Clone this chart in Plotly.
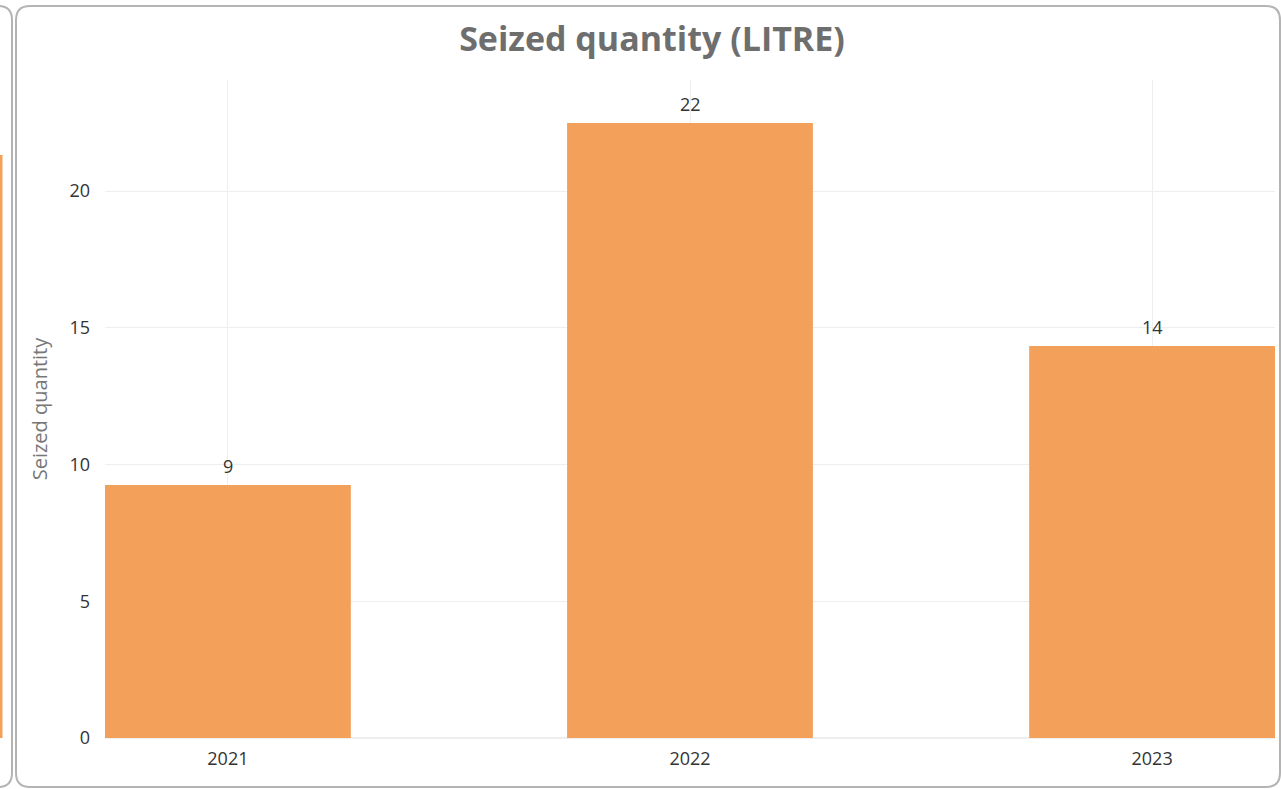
import plotly.graph_objects as go

years = ["2021", "2022", "2023"]
seized = [9.25, 22.49, 14.33]
labels = ["9", "22", "14"]

W, H = 1281, 789
L, R, T, B = 105, 6, 80, 51
pw, ph = W - L - R, H - T - B

def px(x):
    return (x - L) / pw

def py(y):
    return (H - B - y) / ph

def rounded_path(x0, y0, x1, y1, r):
    return (f"M {px(x0+r)} {py(y0)} L {px(x1-r)} {py(y0)} "
            f"Q {px(x1)} {py(y0)} {px(x1)} {py(y0+r)} "
            f"L {px(x1)} {py(y1-r)} Q {px(x1)} {py(y1)} {px(x1-r)} {py(y1)} "
            f"L {px(x0+r)} {py(y1)} Q {px(x0)} {py(y1)} {px(x0)} {py(y1-r)} "
            f"L {px(x0)} {py(y0+r)} Q {px(x0)} {py(y0)} {px(x0+r)} {py(y0)} Z")

FONT = "Open Sans"

fig = go.Figure(go.Bar(
    x=years, y=seized,
    marker=dict(color="#F2A05A", line=dict(width=0)),
    width=0.532, cliponaxis=False, hoverinfo="x+y",
))

annotations = [
    dict(x=i, y=v, text=t, xref="x", yref="y", showarrow=False,
         yanchor="bottom", yshift=5,
         font=dict(size=18, color="#333333", family=FONT))
    for i, (v, t) in enumerate(zip(seized, labels))
]

shapes = [
    dict(type="path", xref="paper", yref="paper", path=rounded_path(16, 6, 1280, 787, 14),
         line=dict(color="#b4b4b4", width=2), fillcolor="rgba(0,0,0,0)", layer="below"),
    dict(type="path", xref="paper", yref="paper", path=rounded_path(-40, 6, 12, 787, 14),
         line=dict(color="#b4b4b4", width=2), fillcolor="rgba(0,0,0,0)", layer="below"),
    dict(type="rect", xref="paper", yref="paper", x0=px(0), x1=px(2.5), y0=py(738), y1=py(155),
         fillcolor="#F2A05A", line=dict(width=0)),
]

fig.update_layout(
    width=W, height=H,
    margin=dict(l=L, r=R, t=T, b=B, autoexpand=False),
    paper_bgcolor="white", plot_bgcolor="white",
    showlegend=False,
    title=dict(text="<b>Seized quantity (LITRE)</b>", x=652 / W, xref="container", xanchor="center",
               y=1 - 39 / H, yanchor="middle",
               font=dict(size=34, color="#6e6e6e", family=FONT)),
    xaxis=dict(type="category", range=[-0.266, 2.266], showgrid=True, gridcolor="#eeeeee",
               tickfont=dict(size=18, color="#333333", family=FONT),
               showline=False, zeroline=False, ticks="", ticklabelstandoff=8),
    yaxis=dict(range=[0, 24.06], dtick=5, showgrid=True, gridcolor="#eeeeee",
               tickfont=dict(size=18, color="#333333", family=FONT),
               ticks="", ticklen=0, ticklabelstandoff=14,
               zeroline=True, zerolinecolor="#eeeeee",
               title=dict(text="Seized quantity", standoff=16,
                          font=dict(size=20, color="#777777", family=FONT))),
    shapes=shapes,
    annotations=annotations,
)

fig.write_html("out.html", config={"displayModeBar": False},
               post_script="document.body.style.margin='0';")
